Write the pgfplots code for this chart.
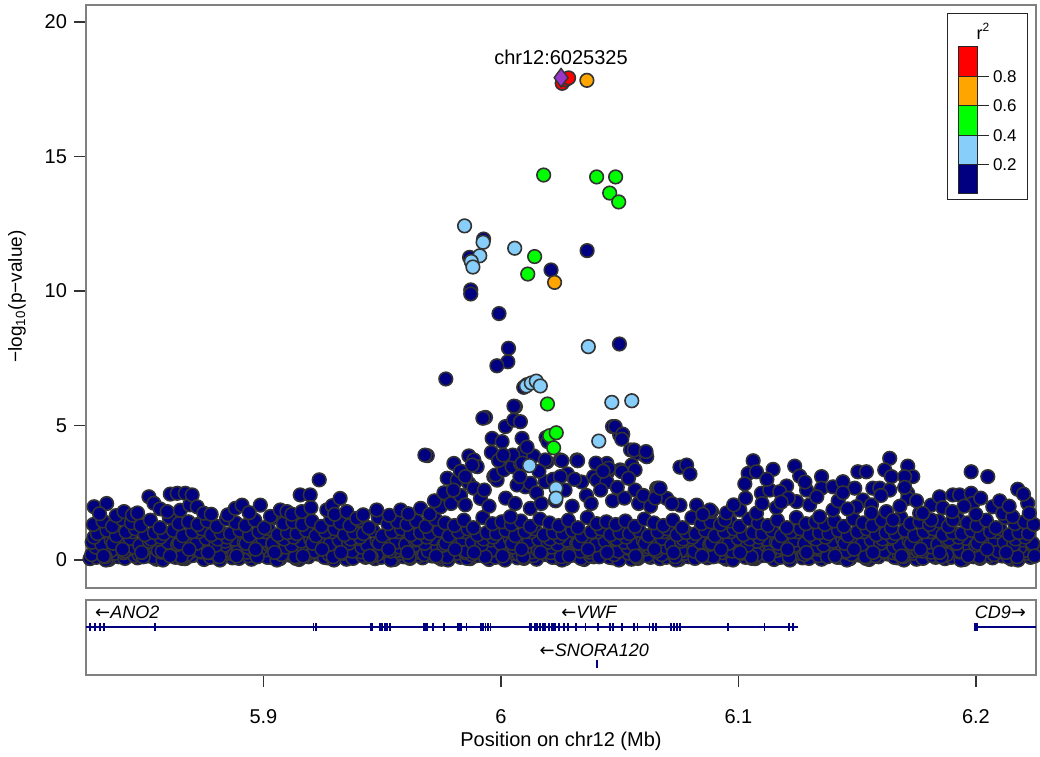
\documentclass[border=0pt]{standalone}
\usepackage{fontspec}
\setmainfont{Liberation Sans}
\newfontfamily\arrowfont{DejaVu Sans}
\usepackage{pgfplots}
\pgfplotsset{compat=1.18}
\definecolor{navyc}{HTML}{000080}
\definecolor{lbluec}{HTML}{87CEFA}
\definecolor{greenc}{HTML}{00FF00}
\definecolor{orangec}{HTML}{FFA500}
\definecolor{redc}{HTML}{FF0000}
\definecolor{purplec}{HTML}{9A36C8}
\definecolor{edgec}{HTML}{333333}
\pgfplotsset{snp/.style={only marks, mark=*, mark size=3.4pt, mark options={draw=edgec, line width=0.8pt, fill=#1}}}
\begin{document}
\begin{tikzpicture}
\path[use as bounding box] (0,0) rectangle (520pt,378pt);
\begin{axis}[
  at={(43pt,84pt)}, anchor=south west, scale only axis,
  width=475pt, height=291.5pt,
  xmin=5.8253, xmax=6.2253, ymin=-1.04, ymax=20.63,
  xtick=\empty, ytick={0,5,10,15,20}, yticklabels={0,5,10,15,20},
  ytick pos=left, tick align=outside, major tick length=6pt,
  axis line style={black!50, line width=0.6pt},
  ytick style={black!80, line width=0.6pt},
  tick label style={font=\fontsize{10}{12}\selectfont},
  ylabel={−log\textsubscript{10}(p−value)},
  ylabel style={at={(axis description cs:-0.0726,0.5)}, anchor=center, font=\fontsize{9.5}{11}\selectfont},
  clip=true]
% navy layers (r2 < 0.2)
\addplot[snp=navyc] coordinates {
(5.827,.05)(5.831,.18)(5.835,.02)(5.839,.12)(5.843,.22)(5.847,.08)(5.851,.15)(5.855,.03)(5.859,.20)(5.863,.10)
(5.867,.05)(5.871,.18)(5.875,.02)(5.879,.12)(5.883,.22)(5.887,.08)(5.891,.15)(5.895,.03)(5.899,.20)(5.903,.10)
(5.907,.05)(5.911,.18)(5.915,.02)(5.919,.12)(5.923,.22)(5.927,.08)(5.931,.15)(5.935,.03)(5.939,.20)(5.943,.10)
(5.947,.05)(5.951,.18)(5.955,.02)(5.959,.12)(5.963,.22)(5.967,.08)(5.971,.15)(5.975,.03)(5.979,.20)(5.983,.10)
(5.987,.05)(5.991,.18)(5.995,.02)(5.999,.12)(6.003,.22)(6.007,.08)(6.011,.15)(6.015,.03)(6.019,.20)(6.023,.10)
(6.027,.05)(6.031,.18)(6.035,.02)(6.039,.12)(6.043,.22)(6.047,.08)(6.051,.15)(6.055,.03)(6.059,.20)(6.063,.10)
(6.067,.05)(6.071,.18)(6.075,.02)(6.079,.12)(6.083,.22)(6.087,.08)(6.091,.15)(6.095,.03)(6.099,.20)(6.103,.10)
(6.107,.05)(6.111,.18)(6.115,.02)(6.119,.12)(6.123,.22)(6.127,.08)(6.131,.15)(6.135,.03)(6.139,.20)(6.143,.10)
(6.147,.05)(6.151,.18)(6.155,.02)(6.159,.12)(6.163,.22)(6.167,.08)(6.171,.15)(6.175,.03)(6.179,.20)(6.183,.10)
(6.187,.05)(6.191,.18)(6.195,.02)(6.199,.12)(6.203,.22)(6.207,.08)(6.211,.15)(6.215,.03)(6.219,.20)(6.223,.10)
};
\addplot[snp=navyc] coordinates {
(5.8297,.10)(5.8337,.00)(5.8377,.25)(5.8417,.06)(5.8457,.16)(5.8497,.30)
(5.8537,.10)(5.8577,.00)(5.8617,.25)(5.8657,.06)(5.8697,.16)(5.8737,.30)
(5.8777,.10)(5.8817,.00)(5.8857,.25)(5.8897,.06)(5.8937,.16)(5.8977,.30)
(5.9017,.10)(5.9057,.00)(5.9097,.25)(5.9137,.06)(5.9177,.16)(5.9217,.30)
(5.9257,.10)(5.9297,.00)(5.9337,.25)(5.9377,.06)(5.9417,.16)(5.9457,.30)
(5.9497,.10)(5.9537,.00)(5.9577,.25)(5.9617,.06)(5.9657,.16)(5.9697,.30)
(5.9737,.10)(5.9777,.00)(5.9817,.25)(5.9857,.06)(5.9897,.16)(5.9937,.30)
(5.9977,.10)(6.0017,.00)(6.0057,.25)(6.0097,.06)(6.0137,.16)(6.0177,.30)
(6.0217,.10)(6.0257,.00)(6.0297,.25)(6.0337,.06)(6.0377,.16)(6.0417,.30)
(6.0457,.10)(6.0497,.00)(6.0537,.25)(6.0577,.06)(6.0617,.16)(6.0657,.30)
(6.0697,.10)(6.0737,.00)(6.0777,.25)(6.0817,.06)(6.0857,.16)(6.0897,.30)
(6.0937,.10)(6.0977,.00)(6.1017,.25)(6.1057,.06)(6.1097,.16)(6.1137,.30)
(6.1177,.10)(6.1217,.00)(6.1257,.25)(6.1297,.06)(6.1337,.16)(6.1377,.30)
(6.1417,.10)(6.1457,.00)(6.1497,.25)(6.1537,.06)(6.1577,.16)(6.1617,.30)
(6.1657,.10)(6.1697,.00)(6.1737,.25)(6.1777,.06)(6.1817,.16)(6.1857,.30)
(6.1897,.10)(6.1937,.00)(6.1977,.25)(6.2017,.06)(6.2057,.16)(6.2097,.30)
(6.2137,.10)(6.2177,.00)(6.2217,.25)
};
\addplot[snp=navyc] coordinates {
(5.8291,.38)(5.8331,.30)(5.8371,.45)(5.8411,.27)(5.8451,.41)(5.8491,.34)(5.8531,.48)(5.8571,.29)(5.8611,.36)
(5.8651,.38)(5.8691,.30)(5.8731,.45)(5.8771,.27)(5.8811,.41)(5.8851,.34)(5.8891,.48)(5.8931,.29)(5.8971,.36)
(5.9011,.38)(5.9051,.30)(5.9091,.45)(5.9131,.27)(5.9171,.41)(5.9211,.34)(5.9251,.48)(5.9291,.29)(5.9331,.36)
(5.9371,.38)(5.9411,.30)(5.9451,.45)(5.9491,.27)(5.9531,.41)(5.9571,.34)(5.9611,.48)(5.9651,.29)(5.9691,.36)
(5.9731,.38)(5.9771,.30)(5.9811,.45)(5.9851,.27)(5.9891,.41)(5.9931,.34)(5.9971,.48)(6.0011,.29)(6.0051,.36)
(6.0091,.38)(6.0131,.30)(6.0171,.45)(6.0211,.27)(6.0251,.41)(6.0291,.34)(6.0331,.48)(6.0371,.29)(6.0411,.36)
(6.0451,.38)(6.0491,.30)(6.0531,.45)(6.0571,.27)(6.0611,.41)(6.0651,.34)(6.0691,.48)(6.0731,.29)(6.0771,.36)
(6.0811,.38)(6.0851,.30)(6.0891,.45)(6.0931,.27)(6.0971,.41)(6.1011,.34)(6.1051,.48)(6.1091,.29)(6.1131,.36)
(6.1171,.38)(6.1211,.30)(6.1251,.45)(6.1291,.27)(6.1331,.41)(6.1371,.34)(6.1411,.48)(6.1451,.29)(6.1491,.36)
(6.1531,.38)(6.1571,.30)(6.1611,.45)(6.1651,.27)(6.1691,.41)(6.1731,.34)(6.1771,.48)(6.1811,.29)(6.1851,.36)
(6.1891,.38)(6.1931,.30)(6.1971,.45)(6.2011,.27)(6.2051,.41)(6.2091,.34)(6.2131,.48)(6.2171,.29)(6.2211,.36)
(6.2251,.38)
};
\addplot[snp=navyc] coordinates {
(5.8305,.52)(5.8345,.44)(5.8385,.58)(5.8425,.49)(5.8465,.40)(5.8505,.55)(5.8545,.47)(5.8585,.60)(5.8625,.42)(5.8665,.50)(5.8705,.57)(5.8745,.45)(5.8785,.53)
(5.8825,.52)(5.8865,.44)(5.8905,.58)(5.8945,.49)(5.8985,.40)(5.9025,.55)(5.9065,.47)(5.9105,.60)(5.9145,.42)(5.9185,.50)(5.9225,.57)(5.9265,.45)(5.9305,.53)
(5.9345,.52)(5.9385,.44)(5.9425,.58)(5.9465,.49)(5.9505,.40)(5.9545,.55)(5.9585,.47)(5.9625,.60)(5.9665,.42)(5.9705,.50)(5.9745,.57)(5.9785,.45)(5.9825,.53)
(5.9865,.52)(5.9905,.44)(5.9945,.58)(5.9985,.49)(6.0025,.40)(6.0065,.55)(6.0105,.47)(6.0145,.60)(6.0185,.42)(6.0225,.50)(6.0265,.57)(6.0305,.45)(6.0345,.53)
(6.0385,.52)(6.0425,.44)(6.0465,.58)(6.0505,.49)(6.0545,.40)(6.0585,.55)(6.0625,.47)(6.0665,.60)(6.0705,.42)(6.0745,.50)(6.0785,.57)(6.0825,.45)(6.0865,.53)
(6.0905,.52)(6.0945,.44)(6.0985,.58)(6.1025,.49)(6.1065,.40)(6.1105,.55)(6.1145,.47)(6.1185,.60)(6.1225,.42)(6.1265,.50)(6.1305,.57)(6.1345,.45)(6.1385,.53)
(6.1425,.52)(6.1465,.44)(6.1505,.58)(6.1545,.49)(6.1585,.40)(6.1625,.55)(6.1665,.47)(6.1705,.60)(6.1745,.42)(6.1785,.50)(6.1825,.57)(6.1865,.45)(6.1905,.53)
(6.1945,.52)(6.1985,.44)(6.2025,.58)(6.2065,.49)(6.2105,.40)(6.2145,.55)(6.2185,.47)
};
\addplot[snp=navyc] coordinates {
(5.8277,.20)(5.8317,.70)(5.8357,.35)(5.8397,.95)(5.8437,.55)
(5.8477,.20)(5.8517,.70)(5.8557,.35)(5.8597,.95)(5.8637,.55)
(5.8677,.20)(5.8717,.70)(5.8757,.35)(5.8797,.95)(5.8837,.55)
(5.8877,.20)(5.8917,.70)(5.8957,.35)(5.8997,.95)(5.9037,.55)
(5.9077,.20)(5.9117,.70)(5.9157,.35)(5.9197,.95)(5.9237,.55)
(5.9277,.20)(5.9317,.70)(5.9357,.35)(5.9397,.95)(5.9437,.55)
(5.9477,.20)(5.9517,.70)(5.9557,.35)(5.9597,.95)(5.9637,.55)
(5.9677,.20)(5.9717,.70)(5.9757,.35)(5.9797,.95)(5.9837,.55)
(5.9877,.20)(5.9917,.70)(5.9957,.35)(5.9997,.95)(6.0037,.55)
(6.0077,.20)(6.0117,.70)(6.0157,.35)(6.0197,.95)(6.0237,.55)
(6.0277,.20)(6.0317,.70)(6.0357,.35)(6.0397,.95)(6.0437,.55)
(6.0477,.20)(6.0517,.70)(6.0557,.35)(6.0597,.95)(6.0637,.55)
(6.0677,.20)(6.0717,.70)(6.0757,.35)(6.0797,.95)(6.0837,.55)
(6.0877,.20)(6.0917,.70)(6.0957,.35)(6.0997,.95)(6.1037,.55)
(6.1077,.20)(6.1117,.70)(6.1157,.35)(6.1197,.95)(6.1237,.55)
(6.1277,.20)(6.1317,.70)(6.1357,.35)(6.1397,.95)(6.1437,.55)
(6.1477,.20)(6.1517,.70)(6.1557,.35)(6.1597,.95)(6.1637,.55)
(6.1677,.20)(6.1717,.70)(6.1757,.35)(6.1797,.95)(6.1837,.55)
(6.1877,.20)(6.1917,.70)(6.1957,.35)(6.1997,.95)(6.2037,.55)
(6.2077,.20)(6.2117,.70)(6.2157,.35)(6.2197,.95)(6.2237,.55)
};
\addplot[snp=navyc] coordinates {
(5.8294,.48)(5.8334,.12)(5.8374,.88)(5.8414,.33)(5.8454,.48)(5.8494,.12)(5.8534,.88)(5.8574,.33)
(5.8614,.48)(5.8654,.12)(5.8694,.88)(5.8734,.33)(5.8774,.48)(5.8814,.12)(5.8854,.88)(5.8894,.33)
(5.8934,.48)(5.8974,.12)(5.9014,.88)(5.9054,.33)(5.9094,.48)(5.9134,.12)(5.9174,.88)(5.9214,.33)
(5.9254,.48)(5.9294,.12)(5.9334,.88)(5.9374,.33)(5.9414,.48)(5.9454,.12)(5.9494,.88)(5.9534,.33)
(5.9574,.48)(5.9614,.12)(5.9654,.88)(5.9694,.33)(5.9734,.48)(5.9774,.12)(5.9814,.88)(5.9854,.33)
(5.9894,.48)(5.9934,.12)(5.9974,.88)(6.0014,.33)(6.0054,.48)(6.0094,.12)(6.0134,.88)(6.0174,.33)
(6.0214,.48)(6.0254,.12)(6.0294,.88)(6.0334,.33)(6.0374,.48)(6.0414,.12)(6.0454,.88)(6.0494,.33)
(6.0534,.48)(6.0574,.12)(6.0614,.88)(6.0654,.33)(6.0694,.48)(6.0734,.12)(6.0774,.88)(6.0814,.33)
(6.0854,.48)(6.0894,.12)(6.0934,.88)(6.0974,.33)(6.1014,.48)(6.1054,.12)(6.1094,.88)(6.1134,.33)
(6.1174,.48)(6.1214,.12)(6.1254,.88)(6.1294,.33)(6.1334,.48)(6.1374,.12)(6.1414,.88)(6.1454,.33)
(6.1494,.48)(6.1534,.12)(6.1574,.88)(6.1614,.33)(6.1654,.48)(6.1694,.12)(6.1734,.88)(6.1774,.33)
(6.1814,.48)(6.1854,.12)(6.1894,.88)(6.1934,.33)(6.1974,.48)(6.2014,.12)(6.2054,.88)(6.2094,.33)
(6.2134,.48)(6.2174,.12)(6.2214,.88)(6.2254,.33)
};
\addplot[snp=navyc] coordinates {
(5.8279,.66)(5.8319,.58)(5.8359,.74)(5.8399,.62)(5.8439,.80)(5.8479,.55)(5.8519,.70)(5.8559,.77)
(5.8599,.66)(5.8639,.58)(5.8679,.74)(5.8719,.62)(5.8759,.80)(5.8799,.55)(5.8839,.70)(5.8879,.77)
(5.8919,.66)(5.8959,.58)(5.8999,.74)(5.9039,.62)(5.9079,.80)(5.9119,.55)(5.9159,.70)(5.9199,.77)
(5.9239,.66)(5.9279,.58)(5.9319,.74)(5.9359,.62)(5.9399,.80)(5.9439,.55)(5.9479,.70)(5.9519,.77)
(5.9559,.66)(5.9599,.58)(5.9639,.74)(5.9679,.62)(5.9719,.80)(5.9759,.55)(5.9799,.70)(5.9839,.77)
(5.9879,.66)(5.9919,.58)(5.9959,.74)(5.9999,.62)(6.0039,.80)(6.0079,.55)(6.0119,.70)(6.0159,.77)
(6.0199,.66)(6.0239,.58)(6.0279,.74)(6.0319,.62)(6.0359,.80)(6.0399,.55)(6.0439,.70)(6.0479,.77)
(6.0519,.66)(6.0559,.58)(6.0599,.74)(6.0639,.62)(6.0679,.80)(6.0719,.55)(6.0759,.70)(6.0799,.77)
(6.0839,.66)(6.0879,.58)(6.0919,.74)(6.0959,.62)(6.0999,.80)(6.1039,.55)(6.1079,.70)(6.1119,.77)
(6.1159,.66)(6.1199,.58)(6.1239,.74)(6.1279,.62)(6.1319,.80)(6.1359,.55)(6.1399,.70)(6.1439,.77)
(6.1479,.66)(6.1519,.58)(6.1559,.74)(6.1599,.62)(6.1639,.80)(6.1679,.55)(6.1719,.70)(6.1759,.77)
(6.1799,.66)(6.1839,.58)(6.1879,.74)(6.1919,.62)(6.1959,.80)(6.1999,.55)(6.2039,.70)(6.2079,.77)
(6.2119,.66)(6.2159,.58)(6.2199,.74)(6.2239,.62)
};
\addplot[snp=navyc] coordinates {
(5.8287,.85)(5.8327,.15)(5.8367,.62)(5.8407,.40)(5.8447,1.05)(5.8487,.28)(5.8527,.78)
(5.8567,.85)(5.8607,.15)(5.8647,.62)(5.8687,.40)(5.8727,1.05)(5.8767,.28)(5.8807,.78)
(5.8847,.85)(5.8887,.15)(5.8927,.62)(5.8967,.40)(5.9007,1.05)(5.9047,.28)(5.9087,.78)
(5.9127,.85)(5.9167,.15)(5.9207,.62)(5.9247,.40)(5.9287,1.05)(5.9327,.28)(5.9367,.78)
(5.9407,.85)(5.9447,.15)(5.9487,.62)(5.9527,.40)(5.9567,1.05)(5.9607,.28)(5.9647,.78)
(5.9687,.85)(5.9727,.15)(5.9767,.62)(5.9807,.40)(5.9847,1.05)(5.9887,.28)(5.9927,.78)
(5.9967,.85)(6.0007,.15)(6.0047,.62)(6.0087,.40)(6.0127,1.05)(6.0167,.28)(6.0207,.78)
(6.0247,.85)(6.0287,.15)(6.0327,.62)(6.0367,.40)(6.0407,1.05)(6.0447,.28)(6.0487,.78)
(6.0527,.85)(6.0567,.15)(6.0607,.62)(6.0647,.40)(6.0687,1.05)(6.0727,.28)(6.0767,.78)
(6.0807,.85)(6.0847,.15)(6.0887,.62)(6.0927,.40)(6.0967,1.05)(6.1007,.28)(6.1047,.78)
(6.1087,.85)(6.1127,.15)(6.1167,.62)(6.1207,.40)(6.1247,1.05)(6.1287,.28)(6.1327,.78)
(6.1367,.85)(6.1407,.15)(6.1447,.62)(6.1487,.40)(6.1527,1.05)(6.1567,.28)(6.1607,.78)
(6.1647,.85)(6.1687,.15)(6.1727,.62)(6.1767,.40)(6.1807,1.05)(6.1847,.28)(6.1887,.78)
(6.1927,.85)(6.1967,.15)(6.2007,.62)(6.2047,.40)(6.2087,1.05)(6.2127,.28)(6.2167,.78)
(6.2207,.85)(6.2247,.15)
};
\addplot[snp=navyc] coordinates {
(5.8301,.98)(5.8341,1.10)(5.8381,.90)(5.8421,1.05)(5.8461,1.16)(5.8501,.94)(5.8541,1.02)
(5.8581,.98)(5.8621,1.10)(5.8661,.90)(5.8701,1.05)(5.8741,1.16)(5.8781,.94)(5.8821,1.02)
(5.8861,.98)(5.8901,1.10)(5.8941,.90)(5.8981,1.05)(5.9021,1.16)(5.9061,.94)(5.9101,1.02)
(5.9141,.98)(5.9181,1.10)(5.9221,.90)(5.9261,1.05)(5.9301,1.16)(5.9341,.94)(5.9381,1.02)
(5.9421,.98)(5.9461,1.10)(5.9501,.90)(5.9541,1.05)(5.9581,1.16)(5.9621,.94)(5.9661,1.02)
(5.9701,.98)(5.9741,1.10)(5.9781,.90)(5.9821,1.05)(5.9861,1.16)(5.9901,.94)(5.9941,1.02)
(5.9981,.98)(6.0021,1.10)(6.0061,.90)(6.0101,1.05)(6.0141,1.16)(6.0181,.94)(6.0221,1.02)
(6.0261,.98)(6.0301,1.10)(6.0341,.90)(6.0381,1.05)(6.0421,1.16)(6.0461,.94)(6.0501,1.02)
(6.0541,.98)(6.0581,1.10)(6.0621,.90)(6.0661,1.05)(6.0701,1.16)(6.0741,.94)(6.0781,1.02)
(6.0821,.98)(6.0861,1.10)(6.0901,.90)(6.0941,1.05)(6.0981,1.16)(6.1021,.94)(6.1061,1.02)
(6.1101,.98)(6.1141,1.10)(6.1181,.90)(6.1221,1.05)(6.1261,1.16)(6.1301,.94)(6.1341,1.02)
(6.1381,.98)(6.1421,1.10)(6.1461,.90)(6.1501,1.05)(6.1541,1.16)(6.1581,.94)(6.1621,1.02)
(6.1661,.98)(6.1701,1.10)(6.1741,.90)(6.1781,1.05)(6.1821,1.16)(6.1861,.94)(6.1901,1.02)
(6.1941,.98)(6.1981,1.10)(6.2021,.90)(6.2061,1.05)(6.2101,1.16)(6.2141,.94)(6.2181,1.02)
(6.2221,.98)
};
\addplot[snp=navyc] coordinates {
(5.8284,1.32)(5.8324,1.45)(5.8364,1.25)(5.8404,1.52)(5.8444,1.38)(5.8484,1.28)(5.8524,1.48)(5.8564,1.20)(5.8604,1.58)(5.8644,1.35)(5.8684,1.42)
(5.8724,1.32)(5.8764,1.45)(5.8804,1.25)(5.8844,1.52)(5.8884,1.38)(5.8924,1.28)(5.8964,1.48)(5.9004,1.20)(5.9044,1.58)(5.9084,1.35)(5.9124,1.42)
(5.9164,1.32)(5.9204,1.45)(5.9244,1.25)(5.9284,1.52)(5.9324,1.38)(5.9364,1.28)(5.9404,1.48)(5.9444,1.20)(5.9484,1.58)(5.9524,1.35)(5.9564,1.42)
(5.9604,1.32)(5.9644,1.45)(5.9684,1.25)(5.9724,1.52)(5.9764,1.38)(5.9804,1.28)(5.9844,1.48)(5.9884,1.20)(5.9924,1.58)(5.9964,1.35)(6.0004,1.42)
(6.0044,1.32)(6.0084,1.45)(6.0124,1.25)(6.0164,1.52)(6.0204,1.38)(6.0244,1.28)(6.0284,1.48)(6.0324,1.20)(6.0364,1.58)(6.0404,1.35)(6.0444,1.42)
(6.0484,1.32)(6.0524,1.45)(6.0564,1.25)(6.0604,1.52)(6.0644,1.38)(6.0684,1.28)(6.0724,1.48)(6.0764,1.20)(6.0804,1.58)(6.0844,1.35)(6.0884,1.42)
(6.0924,1.32)(6.0964,1.45)(6.1004,1.25)(6.1044,1.52)(6.1084,1.38)(6.1124,1.28)(6.1164,1.48)(6.1204,1.20)(6.1244,1.58)(6.1284,1.35)(6.1324,1.42)
(6.1364,1.32)(6.1404,1.45)(6.1444,1.25)(6.1484,1.52)(6.1524,1.38)(6.1564,1.28)(6.1604,1.48)(6.1644,1.20)(6.1684,1.58)(6.1724,1.35)(6.1764,1.42)
(6.1804,1.32)(6.1844,1.45)(6.1884,1.25)(6.1924,1.52)(6.1964,1.38)(6.2004,1.28)(6.2044,1.48)(6.2084,1.20)(6.2124,1.58)(6.2164,1.35)(6.2204,1.42)
(6.2244,1.32)
};
\addplot[snp=navyc] coordinates {
(5.8287,1.98)(5.8340,2.10)(5.8310,1.72)(5.8380,1.65)(5.8413,1.80)(5.8448,1.67)(5.8470,1.75)(5.8518,2.35)(5.8539,2.11)(5.8565,1.90)
(5.8595,1.80)(5.8608,2.45)(5.8637,2.48)(5.8650,1.85)(5.8671,2.48)(5.8690,2.05)(5.8700,2.42)(5.8721,1.98)(5.8749,1.74)(5.8780,1.70)
(5.8850,1.68)(5.8882,1.92)(5.8910,2.04)(5.8940,1.76)(5.8987,2.04)(5.9030,1.62)(5.9071,1.86)(5.9099,1.80)(5.9120,1.70)(5.9155,2.42)
(5.9162,1.80)(5.9197,2.42)(5.9200,1.95)(5.9235,2.98)(5.9267,1.86)(5.9290,2.02)(5.9300,1.70)(5.9323,2.29)(5.9351,1.80)(5.9393,1.55)
(5.9420,1.68)(5.9477,1.86)(5.9530,1.66)(5.9578,1.86)(5.9610,1.72)(5.9662,1.92)(5.9700,1.70)(5.9746,1.98)
(5.9690,3.88)(5.9774,3.04)(5.9802,3.59)(5.9816,2.97)(5.9865,3.87)(5.9886,3.72)(5.9900,3.47)(5.9865,2.85)(5.9886,2.67)(5.9914,2.29)
(5.9963,4.52)(5.9935,5.30)(5.9970,3.10)(5.9984,2.97)(6.0005,4.40)(6.0019,4.96)(6.0054,5.20)(6.0061,5.70)(6.0082,5.14)(6.0089,4.52)
(6.0096,4.03)(6.0040,1.61)(6.0124,1.92)(6.0138,3.87)(6.0194,3.65)(6.0103,2.72)(6.0068,2.79)
(5.9873,10.04)(5.9873,9.89)(5.9868,11.25)(5.9927,11.93)(6.0211,10.78)(6.0363,11.50)(5.9992,9.16)(6.0032,7.87)(6.0029,7.37)(5.9983,7.22)
(5.9768,6.73)(6.0499,8.03)(6.0055,5.72)(5.9924,5.27)(6.0470,4.96)(6.0500,4.65)(5.9680,3.90)(6.0546,4.09)(6.0604,3.90)
(5.9879,3.53)(5.9977,3.16)(6.0012,3.35)(6.0047,3.47)(6.0082,3.59)(6.0124,2.85)(6.0250,3.72)(6.0320,3.72)(6.0390,3.10)(6.0446,3.22)
(6.0502,3.35)(6.0572,3.97)(6.0614,3.84)(6.0656,2.67)(6.0096,6.42)(6.0110,6.52)(6.0190,4.55)(6.0198,4.40)
(6.0323,3.69)(6.0257,3.69)(6.0187,3.72)(6.0187,2.91)(6.0481,4.96)(6.0513,4.68)(6.0509,4.49)(6.0561,4.09)(6.0611,4.03)(6.0446,3.59)
(6.0453,3.41)(6.0551,3.53)(6.0565,3.35)(6.0509,3.28)(6.0404,2.97)(6.0446,2.91)(6.0537,3.04)(6.0565,2.60)(6.0663,2.67)(6.0754,3.45)
(6.0782,3.53)(6.0796,3.20)(6.0698,2.29)(6.0824,2.04)(6.0887,1.80)(6.0943,1.49)
(5.9720,2.20)(5.9760,2.50)(5.9790,2.10)(5.9830,2.40)(5.9850,2.05)(5.9930,2.60)(5.9950,2.00)(6.0020,2.30)(6.0060,2.10)(6.0150,2.50)
(6.0170,2.10)(6.0230,2.20)(6.0270,2.60)(6.0300,2.00)(6.0340,2.90)(6.0360,2.40)(6.0380,2.10)(6.0420,2.60)(6.0470,2.20)(6.0490,2.70)
(6.0520,2.30)(6.0580,2.10)(6.0600,2.40)(6.0630,2.00)(6.0650,2.30)(6.0280,3.20)(6.0310,3.00)(6.0220,3.00)(6.0160,3.30)(6.0080,3.10)
(6.0050,3.90)(5.9960,4.00)(5.9990,3.70)(6.0010,3.90)(6.0110,4.20)(6.0090,3.60)(6.0400,3.60)(6.0430,3.30)(6.0250,3.10)(5.9830,3.30)
(5.9850,3.10)(5.9800,2.60)
(6.1062,3.69)(6.1041,3.22)(6.1027,2.83)(6.1076,3.28)(6.1146,3.37)(6.1097,2.48)(6.1132,2.60)(6.1237,3.49)(6.1258,3.12)(6.1203,2.75)
(6.1174,2.54)(6.1287,2.60)(6.1245,2.17)(6.1350,3.10)(6.1350,2.67)(6.1398,2.72)(6.1440,2.91)(6.1490,2.67)(6.1503,3.28)(6.1539,3.28)
(6.1524,2.23)(6.1566,2.67)(6.1637,3.78)(6.1616,3.35)(6.1644,3.10)(6.1595,2.67)(6.1637,2.60)(6.1713,3.49)(6.1734,3.10)(6.1700,3.10)
(6.1713,2.48)(6.1713,2.29)(6.1763,1.74)(6.1812,2.04)(6.1847,2.35)(6.1903,2.42)(6.1931,2.42)(6.1980,3.28)(6.2050,3.10)(6.1980,2.48)
(6.1987,2.11)(6.2071,1.98)(6.2113,1.74)(6.2155,1.61)(6.2176,2.63)(6.2218,2.11)(6.2225,1.74)(6.1903,1.49)(6.1812,1.49)(6.0670,2.67)
(6.0754,2.04)(6.0880,1.86)(6.1006,1.86)(6.1076,1.74)(6.1342,1.61)(6.1398,1.86)(6.1497,1.98)(6.1623,1.80)(6.1651,1.49)(6.1776,1.74)
(6.1100,2.10)(6.1160,1.95)(6.1210,2.30)(6.1300,2.05)(6.1330,2.35)(6.1420,2.20)(6.1460,1.90)(6.1560,2.05)(6.1680,2.00)(6.1750,2.20)
(6.1860,1.95)(6.1950,2.00)(6.2020,2.30)(6.2100,2.20)(6.2200,2.45)(6.0720,2.10)(6.0850,1.70)(6.0950,1.75)(6.0980,2.05)(6.1030,2.30)
(6.1120,3.00)(6.1180,2.15)(6.1280,2.90)(6.1440,2.50)(6.1600,2.40)(6.1700,2.70)(6.1560,1.75)(6.1900,1.80)(6.2000,1.70)(6.2140,2.00)
};
% light blue (0.2-0.4)
\addplot[snp=lbluec] coordinates {
(5.9847,12.42)(5.9925,11.81)(5.9911,11.31)(5.9875,11.10)(5.9882,10.89)(6.0058,11.59)(6.0368,7.93)
(6.0107,6.47)(6.0128,6.58)(6.0149,6.65)(6.0166,6.47)(6.0467,5.86)(6.0551,5.92)(6.0412,4.42)
(6.0120,3.51)(6.0232,2.67)(6.0232,2.30)
};
% green (0.4-0.6)
\addplot[snp=greenc] coordinates {
(6.0180,14.31)(6.0403,14.24)(6.0483,14.24)(6.0458,13.64)(6.0496,13.31)(6.0142,11.28)(6.0113,10.63)
(6.0196,5.80)(6.0205,4.62)(6.0233,4.73)(6.0222,4.17)
};
% orange (0.6-0.8)
\addplot[snp=orangec] coordinates {(6.0362,17.83)(6.0226,10.32)};
% red (0.8-1)
\addplot[snp=redc] coordinates {(6.0258,17.72)(6.0272,17.85)(6.0285,17.92)};
% lead SNP
\addplot[only marks, mark=diamond*, mark size=4.6pt, mark options={draw=edgec, line width=0.7pt, fill=purplec}] coordinates {(6.025325,17.93)};
\node[font=\fontsize{10}{12}\selectfont] at (axis cs:6.0253,18.68) {chr12:6025325};
\end{axis}
% gene track
\begin{axis}[
  at={(43pt,40.5pt)}, anchor=south west, scale only axis,
  width=475pt, height=37.5pt,
  xmin=5.8253, xmax=6.2253, ymin=0, ymax=1,
  ytick=\empty, xtick={5.9,6,6.1,6.2}, xticklabels={5.9,6,6.1,6.2},
  xtick pos=bottom, tick align=outside, major tick length=6pt,
  axis line style={black!50, line width=0.6pt},
  xtick style={black!80, line width=0.6pt},
  tick label style={font=\fontsize{10}{12}\selectfont},
  xticklabel style={yshift=-7.5pt},
  xlabel={Position on chr12 (Mb)},
  xlabel style={at={(axis description cs:0.5,-0.88)}, anchor=center, font=\fontsize{10}{12}\selectfont},
  clip=true]
\addplot[navyc, line width=1pt] coordinates {(5.8253,0.64) (6.1251,0.64)};
\addplot[navyc, line width=1pt] coordinates {(6.1995,0.64) (6.2253,0.64)};
\addplot[only marks, mark=|, mark size=1.8pt, mark options={navyc, line width=0.9pt}] coordinates {
(5.8271,0.64)(5.8290,0.64)(5.8311,0.64)(5.8329,0.64)(5.8542,0.64)
(5.9211,0.64)(5.9220,0.64)(5.9452,0.64)(5.9459,0.64)(5.9489,0.64)(5.9495,0.64)(5.9500,0.64)
(5.9512,0.64)(5.9522,0.64)(5.9533,0.64)(5.9676,0.64)(5.9683,0.64)(5.9690,0.64)(5.9713,0.64)
(5.9760,0.64)(5.9818,0.64)(5.9827,0.64)(5.9833,0.64)(5.9855,0.64)(5.9917,0.64)(5.9924,0.64)
(5.9935,0.64)(5.9946,0.64)(5.9956,0.64)(6.0120,0.64)(6.0128,0.64)(6.0145,0.64)(6.0152,0.64)
(6.0166,0.64)(6.0176,0.64)(6.0187,0.64)(6.0202,0.64)(6.0214,0.64)(6.0220,0.64)(6.0227,0.64)
(6.0245,0.64)(6.0266,0.64)(6.0284,0.64)(6.0317,0.64)(6.0356,0.64)(6.0408,0.64)(6.0459,0.64)
(6.0472,0.64)(6.0510,0.64)(6.0562,0.64)(6.0575,0.64)(6.0626,0.64)(6.0639,0.64)(6.0652,0.64)
(6.0716,0.64)(6.0729,0.64)(6.0742,0.64)(6.0755,0.64)(6.0955,0.64)(6.1110,0.64)(6.1213,0.64)
(6.1231,0.64)(6.1996,0.64)(6.2000,0.64)(6.2004,0.64)
};
\addplot[only marks, mark=|, mark size=2pt, mark options={navyc, line width=0.9pt}] coordinates {(6.0405,0.147)};
\node[anchor=west, font=\fontsize{9}{11}\selectfont] at (axis cs:5.8262,0.84) {{\arrowfont ←}\textit{ANO2}};
\node[anchor=center, font=\fontsize{9}{11}\selectfont] at (axis cs:6.0372,0.84) {{\arrowfont ←}\textit{VWF}};
\node[anchor=east, font=\fontsize{9}{11}\selectfont] at (axis cs:6.2240,0.84) {\textit{CD9}{\arrowfont →}};
\node[anchor=center, font=\fontsize{9}{11}\selectfont] at (axis cs:6.0393,0.33) {{\arrowfont ←}\textit{SNORA120}};
\end{axis}
% r2 key
\draw[black!85, line width=0.5pt] (473.7pt,278pt) rectangle (513.7pt,371.3pt);
\filldraw[fill=redc, draw=black!85, line width=0.5pt] (479.2pt,339.8pt) rectangle (488.8pt,354.5pt);
\filldraw[fill=orangec, draw=black!85, line width=0.5pt] (479.2pt,325.1pt) rectangle (488.8pt,339.8pt);
\filldraw[fill=greenc, draw=black!85, line width=0.5pt] (479.2pt,310.4pt) rectangle (488.8pt,325.1pt);
\filldraw[fill=lbluec, draw=black!85, line width=0.5pt] (479.2pt,295.7pt) rectangle (488.8pt,310.4pt);
\filldraw[fill=navyc, draw=black!85, line width=0.5pt] (479.2pt,281pt) rectangle (488.8pt,295.7pt);
\foreach \yy/\lab in {339.8/0.8, 325.1/0.6, 310.4/0.4, 295.7/0.2} {
  \draw[black!85, line width=0.5pt] (488.8pt,\yy pt) -- (494.5pt,\yy pt);
  \node[anchor=west, inner sep=0pt, font=\fontsize{8.5}{10}\selectfont] at (496.3pt,\yy pt) {\lab};
}
\node[font=\fontsize{9}{11}\selectfont] at (491.7pt,362.2pt) {r\textsuperscript{2}};
\end{tikzpicture}
\end{document}
